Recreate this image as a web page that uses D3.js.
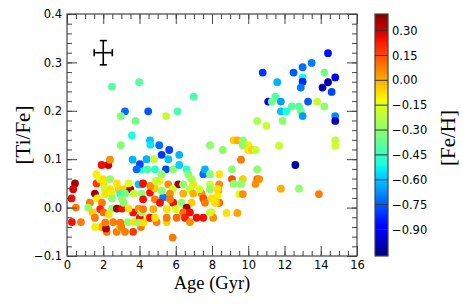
<!DOCTYPE html>
<html>
<head>
<meta charset="utf-8">
<script src="https://cdn.jsdelivr.net/npm/d3@7"></script>
<style>
  body { margin: 0; background: #fff; }
  svg { display: block; }
</style>
</head>
<body>
<svg id="chart" width="463" height="304"></svg>
<script>
// stellar ages (Gyr), [Ti/Fe] and [Fe/H]
const ages = [
  14.4,13.5,13.0,10.8,12.5,14.2,13.0,14.8,11.6,13.0,
  14.4,12.9,14.1,14.6,11.5,11.1,11.3,11.8,13.3,13.8,
  14.2,12.4,12.8,11.8,12.1,12.9,13.0,14.8,14.8,10.5,
  11.0,11.9,14.8,14.8,11.7,12.6,12.8,13.9,11.8,9.2,
  9.4,9.7,10.0,9.7,10.0,10.2,10.4,8.6,9.6,9.1,
  10.5,8.4,9.1,9.7,10.5,10.6,10.4,9.2,9.6,8.4,
  9.5,9.7,8.35,8.4,8.8,9.4,8.3,
  2.48,3.98,6.99,3.2,4.48,6.1,2.97,5.47,3.78,3.58,
  4.58,5.09,2.97,4.6,7.89,5.64,4.39,4.8,5.22,5.59,
  6.19,4.12,4.43,4.85,5.46,5.22,5.86,6.6,6.69,7.52,
  7.61,7.89,4.12,5.59,6.14,6.41,6.96,6.78,6.41,6.96,
  7.43,6.19,6.87,7.89,5.83,7.3,7.89,8.31,5.68,7.52,
  7.98,6.32,6.87,7.61,5.86,8.26,6.6,6.41,6.78,7.15,
  7.52,7.98,8.07,6.05,6.51,6.78,5.83,
  1.91,2.28,2.37,3.62,4.02,3.84,1.63,
  0.44,0.34,0.25,0.49,0.27,0.77,1.63,1.82,2.0,2.37,
  1.26,1.17,1.54,1.67,1.41,1.54,1.91,2.19,2.15,2.55,
  2.74,3.2,3.65,2.92,3.35,3.7,4.08,4.02,4.48,4.94,
  5.5,3.65,2.02,2.07,2.38,2.85,3.21,3.49,3.95,
  2.1,2.48,2.94,3.21,3.68,4.13,2.48,3.03,1.93,1.83,
  2.02,2.48,2.3,2.75,3.03,3.12,3.4,3.95,4.13,1.56,
  2.11,2.94,3.95,4.22,3.0,
  4.2,4.85,5.3,5.68,8.16,4.2,4.76,5.13,5.5,6.0,
  7.89,4.58,4.85,5.5,
  4.58,4.85,5.22,5.1,2.75,3.4,4.2,4.6,4.9
];
const tiFe = [
  0.319,0.299,0.290,0.279,0.279,0.279,0.269,0.269,0.259,0.260,
  0.259,0.248,0.248,0.239,0.229,0.219,0.219,0.219,0.219,0.219,
  0.209,0.209,0.209,0.199,0.199,0.199,0.189,0.189,0.179,0.179,
  0.169,0.179,0.139,0.128,0.128,0.088,0.039,0.028,0.039,0.139,
  0.139,0.139,0.129,0.129,0.119,0.119,0.119,0.119,0.099,0.079,
  0.079,0.069,0.059,0.059,0.059,0.059,0.049,0.049,0.049,0.048,
  0.028,0.028,0.036,0.010,-0.011,-0.011,0.024,
  0.250,0.259,0.229,0.199,0.199,0.199,0.189,0.189,0.179,0.149,
  0.139,0.129,0.129,0.130,0.129,0.119,0.100,0.100,0.109,0.100,
  0.109,0.079,0.079,0.079,0.079,0.069,0.079,0.079,0.069,0.069,
  0.079,0.069,0.048,0.048,0.048,0.048,0.048,0.038,0.029,0.029,
  0.029,0.088,0.059,0.048,0.038,0.038,0.038,0.038,0.029,0.019,
  0.019,0.010,0.010,0.010,0.010,0.010,0.000,-0.010,-0.010,-0.021,
  -0.021,-0.010,-0.021,-0.021,-0.021,-0.030,-0.062,
  0.088,0.088,0.099,0.099,0.090,0.079,0.069,
  0.050,0.038,0.019,0.000,-0.030,-0.030,0.050,0.059,0.059,0.059,
  0.010,0.000,0.029,0.019,-0.010,-0.021,-0.040,-0.050,-0.043,-0.030,
  -0.050,-0.050,-0.050,-0.040,-0.030,-0.030,-0.040,-0.021,-0.021,-0.030,
  -0.030,-0.010,0.050,0.038,0.038,0.038,0.038,0.038,0.048,
  0.028,0.028,0.028,0.029,0.029,0.029,0.019,0.019,0.010,-0.003,
  -0.010,-0.002,-0.014,-0.002,-0.002,0.010,-0.002,-0.002,-0.010,-0.040,
  -0.031,-0.031,-0.031,-0.031,-0.040,
  0.017,0.017,0.021,0.017,0.010,-0.003,-0.003,0.010,-0.003,-0.003,
  -0.010,-0.021,-0.021,-0.021,
  0.031,0.040,0.035,0.055,0.050,0.050,0.050,0.045,0.055
];
const feH = [
  -0.85,-0.70,-0.72,-0.80,-0.75,-0.35,-0.50,-0.90,-0.62,-0.82,
  -1.00,-0.70,-1.00,-0.78,-0.40,-0.92,-0.35,-0.65,-0.75,-0.20,
  -0.30,-0.38,-0.40,-0.60,-0.50,-0.35,-0.65,-0.68,-0.98,-0.25,
  -0.20,-0.30,-0.22,-0.18,-0.20,-1.00,-0.30,0.08,0.00,-0.05,
  0.00,-0.30,-0.10,-0.30,-0.10,-0.05,-0.20,-0.30,0.08,-0.30,
  -0.30,-0.08,0.15,-0.05,0.12,0.05,0.05,-0.30,-0.30,0.05,
  -0.15,0.05,0.05,0.12,-0.08,0.02,-0.10,
  -0.40,-0.40,-0.42,-0.72,-0.75,-0.42,-0.32,-0.20,-0.35,-0.50,
  -0.60,-0.72,-0.32,-0.55,-0.30,-0.78,-0.62,-0.20,-0.80,-0.60,
  -0.62,-0.50,-0.42,-0.48,-0.78,-0.30,-0.30,-0.48,-0.32,-0.72,
  -0.62,-0.32,-0.72,0.05,0.35,-0.30,-0.08,-0.20,0.00,0.00,
  0.05,-0.58,-0.25,-0.20,-0.20,-0.18,-0.30,-0.08,0.05,0.15,
  -0.08,-0.30,-0.05,0.08,0.25,0.00,0.35,0.10,0.25,0.25,
  0.25,-0.10,0.05,0.10,0.22,0.05,0.08,
  0.25,0.30,0.05,-0.62,-0.78,-0.72,-0.10,
  0.35,0.28,0.25,0.08,0.25,0.08,0.18,-0.15,-0.08,-0.30,
  0.08,-0.30,0.35,-0.10,-0.05,0.08,0.00,0.08,0.35,0.08,
  0.08,0.08,0.18,-0.05,-0.30,-0.08,0.08,0.25,-0.08,0.08,
  -0.05,0.25,-0.08,-0.20,-0.08,-0.05,-0.05,0.35,-0.60,
  -0.08,-0.10,-0.50,-0.35,-0.20,-0.30,-0.30,-0.30,0.08,0.22,
  0.10,-0.30,-0.08,0.35,0.25,-0.30,-0.08,0.05,-0.30,-0.10,
  0.08,0.08,-0.30,-0.08,0.08,
  0.25,0.08,-0.70,0.08,-0.08,0.08,0.00,0.25,-0.08,-0.15,
  -0.20,0.25,-0.08,0.08,
  0.25,-0.05,-0.30,-0.10,-0.08,-0.15,0.25,0.05,-0.20
];
// typical uncertainty, drawn as a cross in the upper left
const errAge = 2, errTi = 0.32, errDx = 0.5, errDy = 0.025;

const xTicks = [0, 2, 4, 6, 8, 10, 12, 14, 16];
const yTicks = [-0.1, 0.0, 0.1, 0.2, 0.3, 0.4];
const cbarTicks = [0.30, 0.15, 0.00, -0.15, -0.30, -0.45, -0.60, -0.75, -0.90];
const fehRange = [-1.06, 0.40];

const margin = {top: 14, right: 106, bottom: 48, left: 67};
const width = 463, height = 304;
const svg = d3.select('#chart');

const x = d3.scaleLinear([0, 16], [margin.left, width - margin.right]);
const y = d3.scaleLinear([-0.1, 0.4], [height - margin.bottom, margin.top]);

// matplotlib "jet"
const jr = d3.scaleLinear([0, 0.35, 0.66, 0.89, 1], [0, 0, 1, 1, 0.5]).clamp(true);
const jg = d3.scaleLinear([0, 0.125, 0.375, 0.64, 0.91, 1], [0, 0, 1, 1, 0, 0]).clamp(true);
const jb = d3.scaleLinear([0, 0.11, 0.34, 0.65, 1], [0.5, 1, 1, 0, 0]).clamp(true);
function jet(t) {
  return d3.rgb(jr(t) * 255, jg(t) * 255, jb(t) * 255).formatHex();
}
const norm = d3.scaleLinear(fehRange, [0, 1]).clamp(true);
const color = v => jet(norm(v));

const tickFont = '"DejaVu Sans", sans-serif';
const labelFont = '"Liberation Serif", "DejaVu Serif", serif';

// points
svg.append('defs').append('clipPath').attr('id', 'plotClip')
  .append('rect')
    .attr('x', margin.left).attr('y', margin.top)
    .attr('width', x.range()[1] - margin.left)
    .attr('height', y.range()[0] - margin.top);

svg.append('g').attr('clip-path', 'url(#plotClip)')
  .selectAll('circle')
  .data(d3.range(ages.length))
  .join('circle')
    .attr('cx', i => x(ages[i]))
    .attr('cy', i => y(tiFe[i]))
    .attr('r', 3.9)
    .attr('fill', i => color(feH[i]));

// error cross
const err = svg.append('g').attr('stroke', '#000').attr('stroke-width', 1.6);
err.append('line')
  .attr('x1', x(errAge - errDx)).attr('x2', x(errAge + errDx))
  .attr('y1', y(errTi)).attr('y2', y(errTi));
err.append('line')
  .attr('x1', x(errAge)).attr('x2', x(errAge))
  .attr('y1', y(errTi - errDy)).attr('y2', y(errTi + errDy));
[errAge - errDx, errAge + errDx].forEach(v => {
  err.append('line').attr('x1', x(v)).attr('x2', x(v))
    .attr('y1', y(errTi) - 3.5).attr('y2', y(errTi) + 3.5);
});
[errTi - errDy, errTi + errDy].forEach(v => {
  err.append('line').attr('y1', y(v)).attr('y2', y(v))
    .attr('x1', x(errAge) - 3.5).attr('x2', x(errAge) + 3.5);
});

// axes: major + minor ticks, all pointing inwards
const xMinor = d3.range(0, 16.01, 0.5);
const yMinor = d3.range(-0.1, 0.401, 0.02);

function styleAxis(g) {
  g.select('.domain').remove();
  g.selectAll('line').attr('stroke', '#444');
  g.selectAll('text').attr('font-family', tickFont).attr('font-size', '11.5px').attr('fill', '#000');
}

const yB = y.range()[0], yT = y.range()[1], xL = x.range()[0], xR = x.range()[1];

svg.append('g').attr('transform', `translate(0,${yB})`)
  .call(d3.axisBottom(x).tickValues(xMinor).tickSize(-5).tickFormat('')).call(styleAxis);
svg.append('g').attr('transform', `translate(0,${yB})`)
  .call(d3.axisBottom(x).tickValues(xTicks).tickSize(-10).tickPadding(5).tickFormat(d3.format('d'))).call(styleAxis);
svg.append('g').attr('transform', `translate(0,${yT})`)
  .call(d3.axisTop(x).tickValues(xMinor).tickSize(-5).tickFormat('')).call(styleAxis);
svg.append('g').attr('transform', `translate(0,${yT})`)
  .call(d3.axisTop(x).tickValues(xTicks).tickSize(-10).tickFormat('')).call(styleAxis);

svg.append('g').attr('transform', `translate(${xL},0)`)
  .call(d3.axisLeft(y).tickValues(yMinor).tickSize(-5).tickFormat('')).call(styleAxis);
svg.append('g').attr('transform', `translate(${xL},0)`)
  .call(d3.axisLeft(y).tickValues(yTicks).tickSize(-10).tickPadding(5).tickFormat(d3.format('.1f'))).call(styleAxis);
svg.append('g').attr('transform', `translate(${xR},0)`)
  .call(d3.axisRight(y).tickValues(yMinor).tickSize(-5).tickFormat('')).call(styleAxis);
svg.append('g').attr('transform', `translate(${xR},0)`)
  .call(d3.axisRight(y).tickValues(yTicks).tickSize(-10).tickFormat('')).call(styleAxis);

svg.append('rect')
  .attr('x', xL).attr('y', yT)
  .attr('width', xR - xL).attr('height', yB - yT)
  .attr('fill', 'none').attr('stroke', '#444').attr('stroke-width', 1.2);

svg.append('text')
  .attr('x', (xL + xR) / 2).attr('y', 289)
  .attr('text-anchor', 'middle')
  .attr('font-family', labelFont).attr('font-size', '18.5px')
  .text('Age (Gyr)');

svg.append('text')
  .attr('transform', `translate(30,${(yT + yB) / 2}) rotate(-90)`)
  .attr('text-anchor', 'middle')
  .attr('font-family', labelFont).attr('font-size', '21px')
  .text('[Ti/Fe]');

// colorbar
const cbX = 375, cbW = 13;
const cy = d3.scaleLinear(fehRange, [yB, yT]);
const grad = svg.select('defs').append('linearGradient')
  .attr('id', 'jetGrad').attr('x1', 0).attr('y1', 1).attr('x2', 0).attr('y2', 0);
d3.range(0, 1.0001, 0.02).forEach(t => {
  grad.append('stop').attr('offset', t).attr('stop-color', jet(t));
});
svg.append('rect')
  .attr('x', cbX).attr('y', yT).attr('width', cbW).attr('height', yB - yT)
  .attr('fill', 'url(#jetGrad)');

svg.append('g').selectAll('line')
  .data(cbarTicks)
  .join('line')
    .attr('x1', cbX).attr('x2', cbX + cbW)
    .attr('y1', d => cy(d)).attr('y2', d => cy(d))
    .attr('stroke', '#333').attr('stroke-width', 1);

svg.append('rect')
  .attr('x', cbX).attr('y', yT).attr('width', cbW).attr('height', yB - yT)
  .attr('fill', 'none').attr('stroke', '#444').attr('stroke-width', 1.2);

svg.append('g').attr('transform', `translate(${cbX + cbW},0)`)
  .call(d3.axisRight(cy).tickValues(cbarTicks).tickSize(0).tickPadding(4).tickFormat(d3.format('.2f')))
  .call(styleAxis);

svg.append('text')
  .attr('transform', `translate(455,${(yT + yB) / 2 + 3}) rotate(-90)`)
  .attr('text-anchor', 'middle')
  .attr('font-family', labelFont).attr('font-size', '21px')
  .text('[Fe/H]');
</script>
</body>
</html>
